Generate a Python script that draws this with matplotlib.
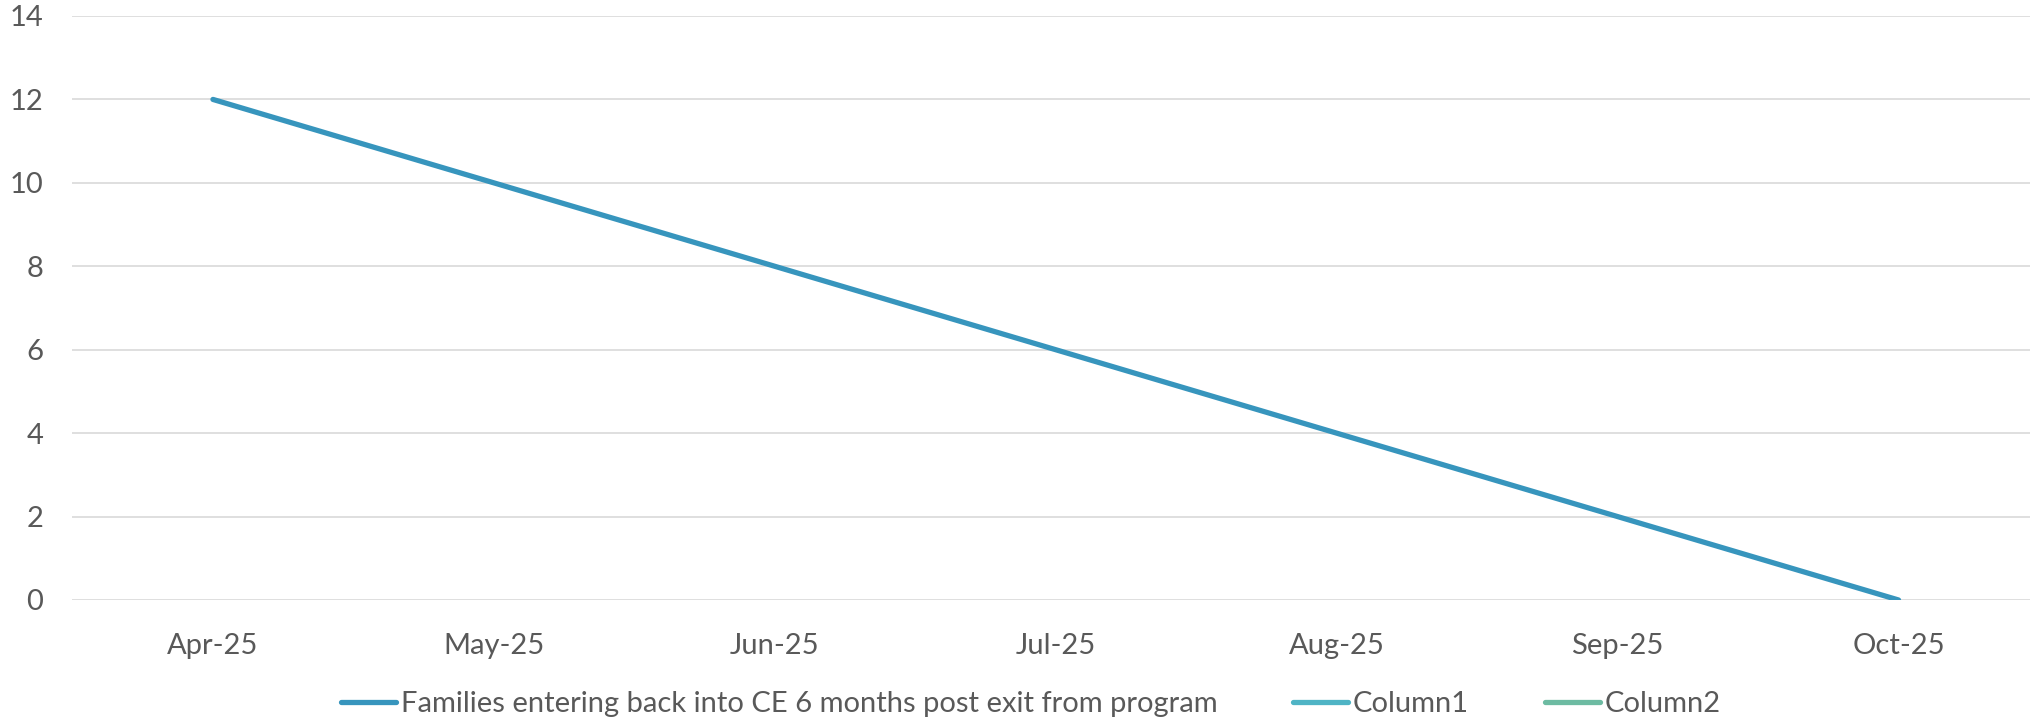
import matplotlib.pyplot as plt
import numpy as np

plt.rcParams['font.family'] = ['Lato', 'DejaVu Sans']

months = ['Apr-25', 'May-25', 'Jun-25', 'Jul-25', 'Aug-25', 'Sep-25', 'Oct-25']
families_reentering = [12, 10, 8, 6, 4, 2, 0]
column1 = [np.nan] * 7
column2 = [np.nan] * 7
y_ticks = [0, 2, 4, 6, 8, 10, 12, 14]

text_color = '#595959'
W, H = 2033, 721

fig = plt.figure(figsize=(W / 100, H / 100), dpi=100)
ax = fig.add_axes([72.5 / W, 1 - 600 / H, (2030 - 72.5) / W, (600 - 16) / H])

x = np.arange(len(months))
ax.plot(x, families_reentering, color='#3795BD', lw=3.8, solid_capstyle='round',
        label='Families entering back into CE 6 months post exit from program')
ax.plot(x, column1, color='#4FB4C5', lw=3.8, solid_capstyle='round', label='Column1')
ax.plot(x, column2, color='#6DBBA2', lw=3.8, solid_capstyle='round', label='Column2')

ax.set_xlim(-0.5, 6.5 - 9 / 281)
ax.set_ylim(0, 14)
ax.set_xticks(x)
ax.set_xticklabels(months)
ax.set_yticks(y_ticks)
ax.tick_params(axis='both', length=0, labelsize=21, labelcolor=text_color)
ax.tick_params(axis='y', pad=21)
ax.tick_params(axis='x', pad=24)
ax.grid(axis='y', color='#D9D9D9', lw=1.2)
ax.set_axisbelow(True)
for s in ax.spines.values():
    s.set_visible(False)

leg = fig.legend(loc='center', bbox_to_anchor=(0.507, 1 - 704 / H), ncol=3, frameon=False,
                 fontsize=21, handlelength=1.9, handletextpad=0.15, columnspacing=2.6)
for t in leg.get_texts():
    t.set_color(text_color)
for h in leg.get_lines():
    h.set_linewidth(3.8)

fig.savefig('out.png', dpi=100)
